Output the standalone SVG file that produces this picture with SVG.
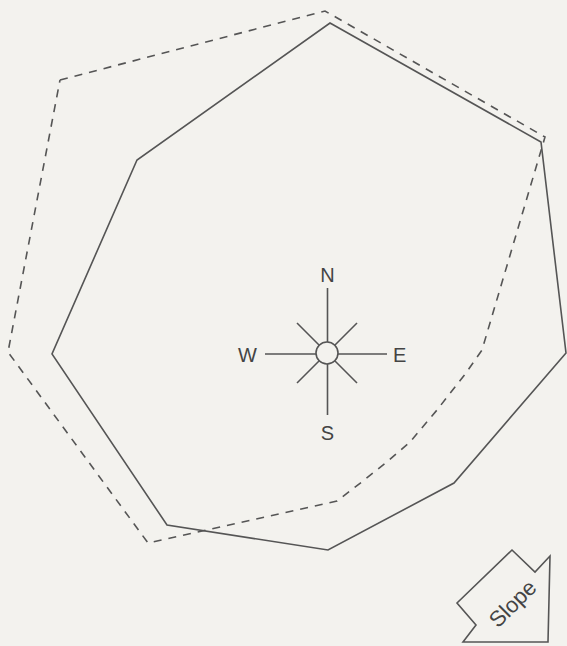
<svg xmlns="http://www.w3.org/2000/svg" width="567" height="646" viewBox="0 0 567 646">
<style>
.ln{fill:none;stroke:#555;stroke-width:1.6;stroke-linejoin:miter}
.dash{fill:none;stroke:#555;stroke-width:1.6;stroke-dasharray:8 7}
.lbl{font-family:"Liberation Sans",Arial,sans-serif;font-size:20px;fill:#444}
</style>
<rect width="567" height="646" fill="#f3f2ee"/>
<g id="connectors">
<polygon id="solid-outline" class="ln" points="330,23 541,142 566,353 454,483 328,550 167,525 52,354 137,160"/>
<polyline id="dashed-outline" class="dash" points="60,80 325,11 545,137 482,350 466,373 437,410 410,442 388,461 363,481 337,501 148,543 8,352 60,80"/>
</g>
<g id="compass">
<circle cx="327" cy="353" r="11" class="ln"/>
<line class="ln" x1="327.5" y1="288" x2="327.5" y2="342"/>
<line class="ln" x1="327.5" y1="364" x2="327.5" y2="415"/>
<line class="ln" x1="265" y1="354" x2="316" y2="354"/>
<line class="ln" x1="338" y1="354" x2="387" y2="354"/>
<line class="ln" x1="297" y1="323" x2="319.5" y2="345.5"/>
<line class="ln" x1="357" y1="323" x2="334.5" y2="345.5"/>
<line class="ln" x1="297" y1="383" x2="319.5" y2="360.5"/>
<line class="ln" x1="357" y1="383" x2="334.5" y2="360.5"/>
<text class="lbl" x="327.5" y="282" text-anchor="middle">N</text>
<text class="lbl" x="257" y="362" text-anchor="end">W</text>
<text class="lbl" x="393" y="362" text-anchor="start">E</text>
<text class="lbl" x="327.5" y="440" text-anchor="middle">S</text>
</g>
<g id="slope">
<polygon class="ln" points="512,550 535,572 550,556 548,642 463,642 476,625 457,603"/>
<text class="lbl" transform="translate(513,604) rotate(-45)" x="0" y="7" text-anchor="middle" style="font-size:22px">Slope</text>
</g>
</svg>
